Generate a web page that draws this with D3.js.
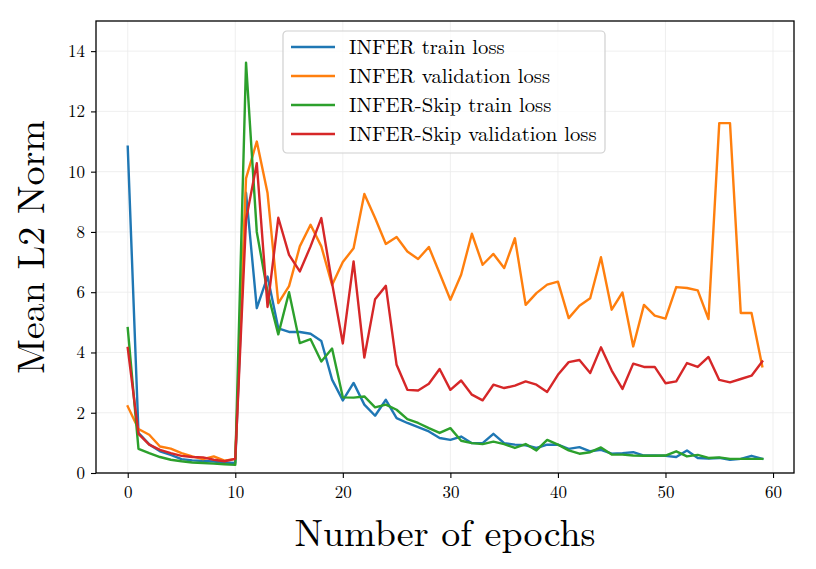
<!DOCTYPE html>
<html>
<head>
<meta charset="utf-8">
<script src="https://cdn.jsdelivr.net/npm/d3@7"></script>
<style>
  body { margin: 0; background: #fff; }
  text { font-family: "Latin Modern Roman", "Liberation Serif", "DejaVu Serif", serif; }
</style>
</head>
<body>
<div id="chart"></div>
<script>
// values, epochs 0..59
const epochs = d3.range(60);
const inferTrain = [10.83, 1.33, 0.95, 0.72, 0.6, 0.46, 0.42, 0.4, 0.38, 0.35, 0.33,
  9.3, 5.47, 6.52, 4.8, 4.68, 4.68, 4.62, 4.38, 3.1, 2.41,
  2.99, 2.27, 1.9, 2.43, 1.82, 1.66, 1.52, 1.38, 1.16, 1.1,
  1.21, 0.99, 0.99, 1.3, 0.99, 0.94, 0.92, 0.83, 0.94, 0.94,
  0.8, 0.86, 0.72, 0.77, 0.64, 0.66, 0.69, 0.58, 0.58, 0.57,
  0.53, 0.75, 0.5, 0.48, 0.5, 0.44, 0.47, 0.57, 0.47];
const inferVal = [2.21, 1.46, 1.27, 0.88, 0.81, 0.66, 0.55, 0.46, 0.55, 0.41, 0.47,
  9.78, 11.0, 9.29, 5.64, 6.2, 7.52, 8.24, 7.52, 6.24, 7.0,
  7.46, 9.26, 8.46, 7.6, 7.83, 7.35, 7.1, 7.5, 6.63, 5.75,
  6.58, 7.94, 6.91, 7.27, 6.8, 7.79, 5.58, 5.97, 6.25, 6.35,
  5.14, 5.55, 5.8, 7.16, 5.42, 5.99, 4.2, 5.58, 5.22, 5.12,
  6.17, 6.14, 6.06, 5.11, 11.61, 11.61, 5.31, 5.31, 3.54];
const skipTrain = [4.81, 0.8, 0.66, 0.53, 0.44, 0.39, 0.35, 0.33, 0.31, 0.29, 0.27,
  13.62, 8.0, 6.0, 4.6, 6.0, 4.31, 4.44, 3.7, 4.13, 2.51,
  2.5, 2.54, 2.18, 2.27, 2.1, 1.79, 1.66, 1.49, 1.33, 1.49,
  1.07, 0.99, 0.96, 1.04, 0.96, 0.83, 0.96, 0.75, 1.1, 0.94,
  0.75, 0.64, 0.69, 0.85, 0.61, 0.61, 0.58, 0.57, 0.57, 0.58,
  0.72, 0.55, 0.6, 0.5, 0.52, 0.47, 0.47, 0.47, 0.47];
const skipVal = [4.15, 1.3, 0.94, 0.77, 0.66, 0.57, 0.53, 0.52, 0.44, 0.39, 0.47,
  8.4, 10.28, 5.51, 8.47, 7.24, 6.69, 7.52, 8.46, 6.3, 4.3,
  7.02, 3.83, 5.77, 6.21, 3.59, 2.76, 2.74, 2.96, 3.45, 2.76,
  3.07, 2.6, 2.41, 2.93, 2.82, 2.9, 3.04, 2.93, 2.69, 3.26,
  3.68, 3.75, 3.32, 4.17, 3.4, 2.79, 3.63, 3.52, 3.52, 2.98,
  3.04, 3.65, 3.52, 3.85, 3.09, 3.01, 3.12, 3.23, 3.7];

const seriesNames = ["INFER train loss", "INFER validation loss",
  "INFER-Skip train loss", "INFER-Skip validation loss"];
const seriesValues = [inferTrain, inferVal, skipTrain, skipVal];
const colors = ["#1f77b4", "#ff7f0e", "#2ca02c", "#d62728"];
const xTicks = [0, 10, 20, 30, 40, 50, 60];
const yTicks = [0, 2, 4, 6, 8, 10, 12, 14];

const width = 816, height = 569;
const marginTop = 21, marginRight = 22, marginBottom = 96, marginLeft = 96;

const x = d3.scaleLinear([-2.95, 61.95], [marginLeft, width - marginRight]);
const y = d3.scaleLinear([0, 15], [height - marginBottom, marginTop]);

const svg = d3.select("#chart").append("svg")
    .attr("width", width)
    .attr("height", height)
    .attr("viewBox", [0, 0, width, height]);

// grid
svg.append("g")
    .attr("stroke", "#ebebeb")
    .attr("stroke-width", 0.8)
  .call(g => g.selectAll(".gx").data(xTicks).join("line")
      .attr("x1", d => x(d)).attr("x2", d => x(d))
      .attr("y1", marginTop).attr("y2", height - marginBottom))
  .call(g => g.selectAll(".gy").data(yTicks).join("line")
      .attr("x1", marginLeft).attr("x2", width - marginRight)
      .attr("y1", d => y(d)).attr("y2", d => y(d)));

// lines
const line = d3.line()
    .x((d, i) => x(epochs[i]))
    .y(d => y(d));

svg.append("g")
    .attr("fill", "none")
    .attr("stroke-width", 2.4)
    .attr("stroke-linejoin", "round")
    .attr("stroke-linecap", "square")
  .selectAll("path")
  .data(seriesValues)
  .join("path")
    .attr("stroke", (d, i) => colors[i])
    .attr("d", line);

// axes
svg.append("g")
    .attr("transform", `translate(0,${height - marginBottom})`)
    .call(d3.axisBottom(x).tickValues(xTicks).tickSize(5).tickPadding(8).tickSizeOuter(0))
    .call(g => g.select(".domain").remove())
    .call(g => g.selectAll(".tick line").attr("stroke-width", 1.1))
    .call(g => g.selectAll(".tick text").attr("font-size", 17));

svg.append("g")
    .attr("transform", `translate(${marginLeft},0)`)
    .call(d3.axisLeft(y).tickValues(yTicks).tickSize(5).tickPadding(6).tickSizeOuter(0))
    .call(g => g.select(".domain").remove())
    .call(g => g.selectAll(".tick line").attr("stroke-width", 1.1))
    .call(g => g.selectAll(".tick text").attr("font-size", 17));

// frame
svg.append("rect")
    .attr("x", marginLeft)
    .attr("y", marginTop)
    .attr("width", width - marginLeft - marginRight)
    .attr("height", height - marginTop - marginBottom)
    .attr("fill", "none")
    .attr("stroke", "#000")
    .attr("stroke-width", 1.3);

// axis labels
svg.append("text")
    .attr("x", (marginLeft + width - marginRight) / 2)
    .attr("y", 546)
    .attr("text-anchor", "middle")
    .attr("font-size", 38)
    .text("Number of epochs");

svg.append("text")
    .attr("transform", `translate(44,${(marginTop + height - marginBottom) / 2}) rotate(-90)`)
    .attr("text-anchor", "middle")
    .attr("font-size", 38)
    .text("Mean L2 Norm");

// legend
const legend = svg.append("g")
    .attr("transform", "translate(283,31)");

legend.append("rect")
    .attr("width", 322)
    .attr("height", 122)
    .attr("rx", 4)
    .attr("fill", "#fff")
    .attr("fill-opacity", 0.8)
    .attr("stroke", "#d0d0d0")
    .attr("stroke-width", 1.2);

const item = legend.selectAll(".item")
  .data(seriesNames)
  .join("g")
    .attr("transform", (d, i) => `translate(0,${16 + i * 29})`);

item.append("line")
    .attr("x1", 8).attr("x2", 52)
    .attr("stroke", (d, i) => colors[i])
    .attr("stroke-width", 2.4);

item.append("text")
    .attr("x", 66)
    .attr("dy", "0.33em")
    .attr("font-size", 20.7)
    .text(d => d);
</script>
</body>
</html>
